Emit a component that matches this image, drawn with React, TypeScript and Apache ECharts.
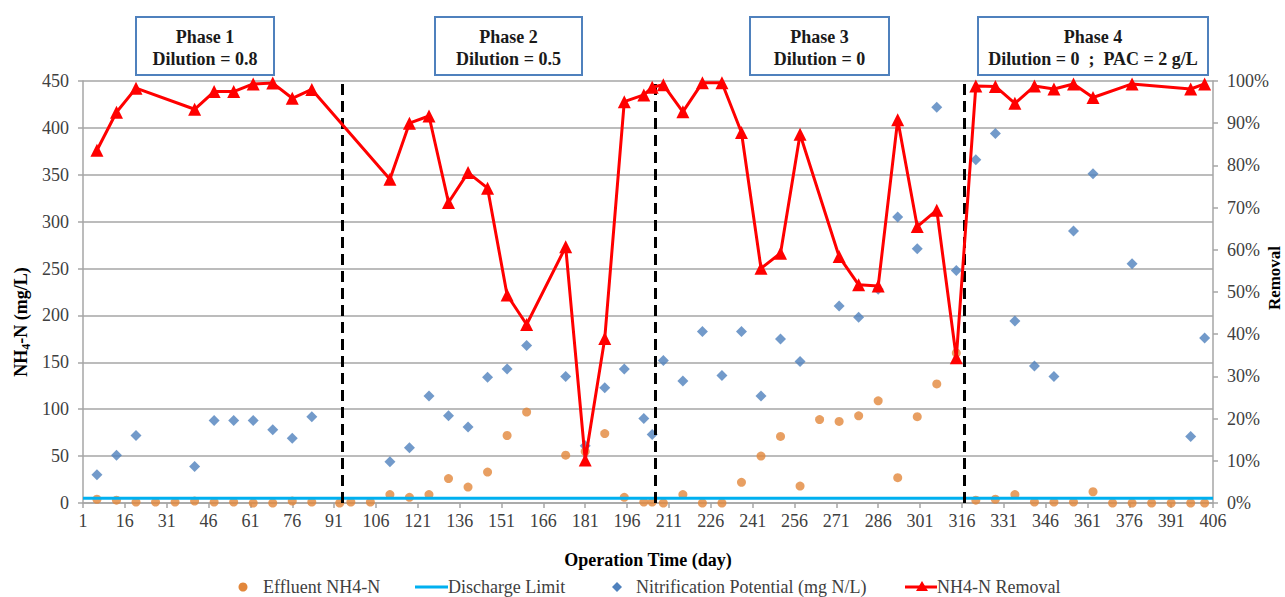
import { useEffect, useRef } from "react";
import * as echarts from "echarts";

// ---- Data ----
const xTicks = [1, 16, 31, 46, 61, 76, 91, 106, 121, 136, 151, 166, 181, 196, 211, 226, 241, 256, 271, 286, 301, 316, 331, 346, 361, 376, 391, 406];

const effluentDays = [6, 13, 20, 27, 34, 41, 48, 55, 62, 69, 76, 83, 93, 97, 104, 111, 118, 125, 132, 139, 146, 153, 160, 174, 181, 188, 195, 202, 205, 209, 216, 223, 230, 237, 244, 251, 258, 265, 272, 279, 286, 293, 300, 307, 314, 321, 328, 335, 342, 349, 356, 363, 370, 377, 384, 391, 398, 403];
const effluentValues = [4, 3, 1, 1, 1, 2, 1, 1, 0, 0, 2, 1, 0, 1, 1, 9, 6, 9, 26, 17, 33, 72, 97, 51, 55, 74, 6, 1, 1, 0, 9, 0, 0, 22, 50, 71, 18, 89, 87, 93, 109, 27, 92, 127, 160, 3, 4, 9, 1, 1, 1, 12, 0, 0, 0, 0, 0, 0];

const sampleDays = [6, 13, 20, 41, 48, 55, 62, 69, 76, 83, 111, 118, 125, 132, 139, 146, 153, 160, 174, 181, 188, 195, 202, 205, 209, 216, 223, 230, 237, 244, 251, 258, 272, 279, 286, 293, 300, 307, 314, 321, 328, 335, 342, 349, 356, 363, 377, 398, 403];
const nitrificationValues = [30, 51, 72, 39, 88, 88, 88, 78, 69, 92, 44, 59, 114, 93, 81, 134, 143, 168, 135, 61, 123, 143, 90, 73, 152, 130, 183, 136, 183, 114, 175, 151, 210, 198, 228, 305, 271, 422, 248, 366, 394, 194, 146, 135, 290, 351, 255, 71, 176];
const removalValues = [83.6, 92.6, 98.3, 93.3, 97.5, 97.5, 99.3, 99.5, 95.9, 98.0, 76.7, 90.0, 91.7, 71.2, 78.3, 74.6, 49.3, 42.3, 60.7, 10.2, 39.0, 95.1, 96.7, 98.5, 99.1, 92.7, 99.6, 99.6, 87.8, 55.6, 59.2, 87.4, 58.4, 51.7, 51.4, 90.8, 65.5, 69.4, 34.4, 98.8, 98.7, 94.7, 98.8, 98.1, 99.3, 96.1, 99.3, 98.1, 99.3];

const dischargeLimit = 5;
const dayRange = [1, 406];
const phaseBoundaries = [94, 206, 317];
const phaseTitles = ["Phase 1", "Phase 2", "Phase 3", "Phase 4"];
const phaseNotes = ["Dilution = 0.8", "Dilution = 0.5", "Dilution = 0", "Dilution = 0  ;  PAC = 2 g/L"];
const seriesNames = ["Effluent NH4-N", "Discharge Limit", "Nitrification Potential (mg N/L)", "NH4-N Removal"];

// ---- Layout / style ----
const FONT = "Liberation Serif";
const COLORS = { effluent: "#E2873B", limit: "#00B0F0", nitrif: "#4F81BD", removal: "#FF0000" };
const boxes = [
  { x: 136, w: 138 },
  { x: 435, w: 147 },
  { x: 750, w: 139 },
  { x: 978, w: 230 },
];

function txt(x: number, y: number, text: string, size: number, bold: boolean, align: string, color: string, extra: any = {}) {
  return {
    type: "text",
    x,
    y,
    ...extra,
    style: {
      text,
      fontFamily: FONT,
      fontSize: size,
      fontWeight: bold ? "bold" : "normal",
      fill: color,
      textAlign: align,
      textVerticalAlign: "middle",
    },
  };
}

function buildOption() {
  const pair = (xs: number[], ys: number[]) => xs.map((d, i) => [d, ys[i]]);
  const axisColor = "#A6A6A6";
  const labelStyle = { fontFamily: FONT, fontSize: 18, color: "#404040" };

  const graphics: any[] = [];
  boxes.forEach((b, i) => {
    graphics.push({
      type: "rect",
      shape: { x: b.x, y: 17, width: b.w, height: 58 },
      style: { fill: "#fff", stroke: "#4F81BD", lineWidth: 2 },
      z: 10,
    });
    graphics.push(txt(b.x + b.w / 2, 37, phaseTitles[i], 18, true, "center", "#1a1a1a", { z: 11 }));
    graphics.push(txt(b.x + b.w / 2, 59, phaseNotes[i], 18, true, "center", "#1a1a1a", { z: 11 }));
  });

  // axis titles
  graphics.push({
    type: "text",
    x: 21,
    y: 322,
    rotation: Math.PI / 2,
    style: {
      text: "{a|NH}{s|4}{a|-N (mg/L)}",
      textAlign: "center",
      textVerticalAlign: "middle",
      fill: "#000",
      rich: {
        a: { fontFamily: FONT, fontWeight: "bold", fontSize: 18, lineHeight: 22, verticalAlign: "middle", fill: "#000" },
        s: { fontFamily: FONT, fontWeight: "bold", fontSize: 12, lineHeight: 12, verticalAlign: "bottom", fill: "#000" },
      },
    },
  });
  graphics.push(txt(1274, 278, "Removal", 17, true, "center", "#000", { rotation: Math.PI / 2 }));

  // legend
  const ly = 587;
  graphics.push({ type: "circle", shape: { cx: 243, cy: ly, r: 4.5 }, style: { fill: COLORS.effluent } });
  graphics.push(txt(263, ly, seriesNames[0], 18, false, "left", "#404040"));
  graphics.push({ type: "line", shape: { x1: 415, y1: ly, x2: 448, y2: ly }, style: { stroke: COLORS.limit, lineWidth: 3 } });
  graphics.push(txt(448, ly, seriesNames[1], 18, false, "left", "#404040"));
  graphics.push({
    type: "polygon",
    shape: { points: [[617, ly - 5], [622, ly], [617, ly + 5], [612, ly]] },
    style: { fill: COLORS.nitrif },
  });
  graphics.push(txt(636, ly, seriesNames[2], 18, false, "left", "#404040"));
  graphics.push({ type: "line", shape: { x1: 905, y1: ly, x2: 937, y2: ly }, style: { stroke: COLORS.removal, lineWidth: 3 } });
  graphics.push({
    type: "polygon",
    shape: { points: [[922, ly - 6], [928, ly + 4], [916, ly + 4]] },
    style: { fill: COLORS.removal },
  });
  graphics.push(txt(937, ly, seriesNames[3], 18, false, "left", "#404040"));

  return {
    animation: false,
    backgroundColor: "#fff",
    textStyle: { fontFamily: FONT },
    grid: { left: 83, right: 72, top: 81, bottom: 94, containLabel: false },
    xAxis: {
      type: "value",
      min: dayRange[0],
      max: dayRange[1],
      name: "Operation Time (day)",
      nameLocation: "middle",
      nameGap: 48,
      nameTextStyle: { fontFamily: FONT, fontSize: 18, fontWeight: "bold", color: "#000" },
      axisLine: { show: true, lineStyle: { color: axisColor, width: 1.5 } },
      axisTick: { show: true, customValues: xTicks, length: 5, lineStyle: { color: axisColor, width: 1.5 } },
      axisLabel: { customValues: xTicks, margin: 9, ...labelStyle },
      splitLine: { show: false },
    },
    yAxis: [
      {
        type: "value",
        min: 0,
        max: 450,
        interval: 50,
        axisLine: { show: true, lineStyle: { color: axisColor, width: 1.5 } },
        axisTick: { show: true, length: 5, lineStyle: { color: axisColor, width: 1.5 } },
        axisLabel: { margin: 14, ...labelStyle },
        splitLine: { show: true, lineStyle: { color: axisColor, width: 1.5 } },
      },
      {
        type: "value",
        min: 0,
        max: 100,
        interval: 10,
        position: "right",
        axisLine: { show: true, lineStyle: { color: axisColor, width: 1.5 } },
        axisTick: { show: true, length: 5, lineStyle: { color: axisColor, width: 1.5 } },
        axisLabel: { margin: 14, formatter: "{value}%", ...labelStyle },
        splitLine: { show: false },
      },
    ],
    series: [
      {
        name: seriesNames[0],
        type: "scatter",
        symbol: "circle",
        symbolSize: 9,
        itemStyle: { color: COLORS.effluent },
        data: pair(effluentDays, effluentValues),
        z: 2,
      },
      {
        name: seriesNames[1],
        type: "line",
        symbol: "none",
        lineStyle: { color: COLORS.limit, width: 3 },
        itemStyle: { color: COLORS.limit },
        data: dayRange.map((d) => [d, dischargeLimit]),
        z: 3,
        markLine: {
          silent: true,
          symbol: "none",
          label: { show: false },
          lineStyle: { color: "#000", width: 3, type: [11, 6] },
          data: phaseBoundaries.map((d) => ({ xAxis: d })),
        },
      },
      {
        name: seriesNames[2],
        type: "scatter",
        symbol: "diamond",
        symbolSize: 11,
        itemStyle: { color: COLORS.nitrif },
        data: pair(sampleDays, nitrificationValues),
        z: 4,
      },
      {
        name: seriesNames[3],
        type: "line",
        yAxisIndex: 1,
        symbol: "triangle",
        symbolSize: 13,
        lineStyle: { color: COLORS.removal, width: 3 },
        itemStyle: { color: COLORS.removal },
        data: pair(sampleDays, removalValues),
        z: 5,
      },
    ],
    graphic: graphics,
  };
}

export default function App() {
  const ref = useRef<HTMLDivElement>(null);
  useEffect(() => {
    document.body.style.margin = "0";
    const chart = echarts.init(ref.current!, null, { renderer: "svg" });
    chart.setOption(buildOption() as any);
    return () => chart.dispose();
  }, []);
  return <div ref={ref} style={{ width: 1285, height: 597 }} />;
}
